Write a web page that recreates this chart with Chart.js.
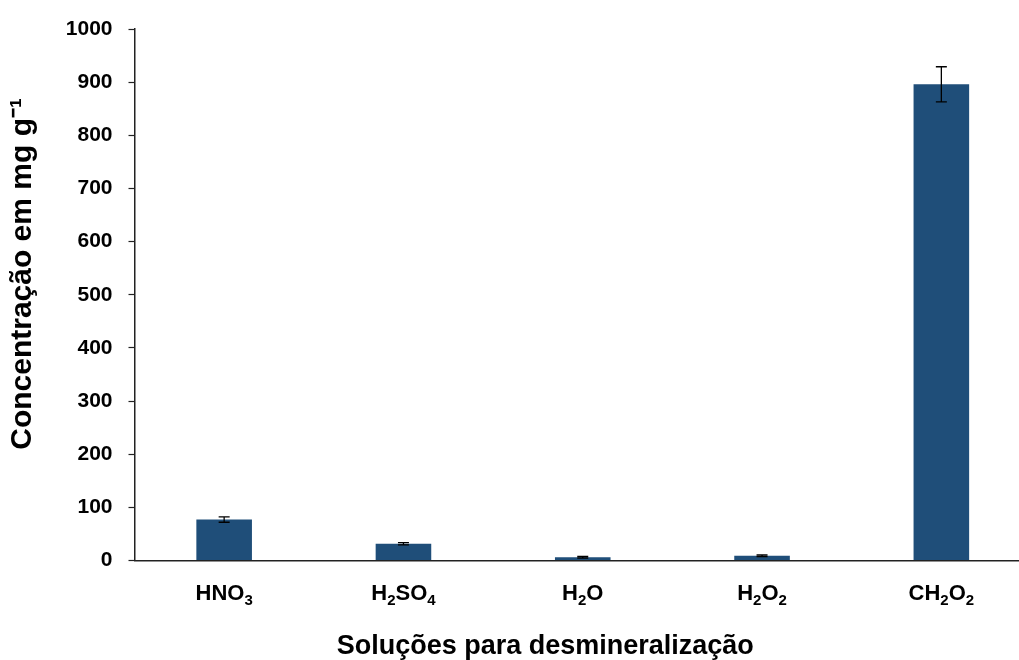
<!DOCTYPE html>
<html>
<head>
<meta charset="utf-8">
<script src="https://cdn.jsdelivr.net/npm/chart.js@4.4.1/dist/chart.umd.min.js"></script>
<style>
  html, body { margin: 0; padding: 0; background: #fff; overflow: hidden; }
  #wrap { width: 1019px; height: 660px; overflow: hidden; }
  #chart { display: block; }
</style>
</head>
<body>
<div id="wrap"><canvas id="chart" width="1040" height="660"></canvas></div>
<script>
// ── Data ───────────────────────────────────────────────────────────────
const categories = ['HNO₃', 'H₂SO₄', 'H₂O', 'H₂O₂', 'CH₂O₂'];
const values     = [77, 31.5, 6, 9, 896];
const errors     = [5, 2, 1.5, 1.5, 33];
const yTicks     = [0, 100, 200, 300, 400, 500, 600, 700, 800, 900, 1000];
const xTitle     = 'Soluções para desmineralização';
const yTitle     = 'Concentração em mg g⁻¹';

// ── Style ──────────────────────────────────────────────────────────────
const BAR_COLOR = '#1F4E79';
const FONT = 'Arial, "Liberation Sans", sans-serif';
const SUBS = '₀₁₂₃₄₅₆₇₈₉';

// ── Error bars ─────────────────────────────────────────────────────────
const errorBars = {
  id: 'errorBars',
  afterDatasetsDraw(chart) {
    const { ctx, scales: { x, y } } = chart;
    ctx.save();
    ctx.strokeStyle = '#000';
    ctx.lineWidth = 1.3;
    values.forEach((v, i) => {
      const cx = x.getPixelForValue(i);
      const top = y.getPixelForValue(v + errors[i]);
      const bot = y.getPixelForValue(v - errors[i]);
      ctx.beginPath();
      ctx.moveTo(cx, top); ctx.lineTo(cx, bot);
      ctx.moveTo(cx - 5.5, top); ctx.lineTo(cx + 5.5, top);
      ctx.moveTo(cx - 5.5, bot); ctx.lineTo(cx + 5.5, bot);
      ctx.stroke();
    });
    ctx.restore();
  }
};

// ── Category labels with lowered subscripts ────────────────────────────
const subLabels = {
  id: 'subLabels',
  afterDraw(chart) {
    const { ctx, scales: { x } } = chart;
    const big = 'bold 22px ' + FONT, small = 'bold 15px ' + FONT;
    const base = x.top + 39;
    ctx.save();
    ctx.fillStyle = '#000';
    ctx.textBaseline = 'alphabetic';
    ctx.textAlign = 'left';
    categories.forEach((lab, i) => {
      const parts = [...lab].map(ch => {
        const k = SUBS.indexOf(ch);
        return k >= 0 ? { t: String(k), sub: true } : { t: ch, sub: false };
      });
      let w = 0;
      parts.forEach(p => { ctx.font = p.sub ? small : big; w += ctx.measureText(p.t).width; });
      let px = x.getPixelForValue(i) - w / 2;
      parts.forEach(p => {
        ctx.font = p.sub ? small : big;
        ctx.fillText(p.t, px, p.sub ? base + 5 : base);
        px += ctx.measureText(p.t).width;
      });
    });
    ctx.restore();
  }
};

// ── Chart ──────────────────────────────────────────────────────────────
new Chart(document.getElementById('chart').getContext('2d'), {
  type: 'bar',
  data: {
    labels: categories,
    datasets: [{
      data: values,
      backgroundColor: BAR_COLOR,
      borderWidth: 0,
      barPercentage: 0.62,
      categoryPercentage: 0.5
    }]
  },
  options: {
    responsive: false,
    animation: false,
    layout: { padding: { top: 29, right: 9, left: 0, bottom: 0 } },
    plugins: { legend: { display: false }, tooltip: { enabled: false } },
    scales: {
      x: {
        grid: { display: false, drawTicks: false },
        border: { color: '#222', width: 1.5 },
        ticks: { display: false },
        title: {
          // trailing spaces pull the title left, as in the original layout
          display: true, text: xTitle + ' '.repeat(10), color: '#000',
          font: { family: FONT, size: 27, weight: 'bold' }, padding: { top: 0, bottom: -3 }
        },
        afterFit(s) { s.height = 99.5; }
      },
      y: {
        min: 0, max: 1000,
        afterBuildTicks(s) { s.ticks = yTicks.map(v => ({ value: v })); },
        grid: { display: true, drawOnChartArea: false, drawTicks: true, tickLength: 6, tickColor: '#222', tickWidth: 1.2 },
        border: { color: '#222', width: 1.5 },
        ticks: {
          color: '#000', padding: 16, font: { family: FONT, size: 21, weight: 'bold' },
          callback: v => String(v)
        },
        title: {
          // leading spaces lift the title slightly, as in the original
          display: true, text: ' '.repeat(5) + yTitle, color: '#000',
          font: { family: FONT, size: 30, weight: 'bold' }, padding: { top: 5, bottom: 0 }
        },
        afterFit(s) { s.width = 134.5; }
      }
    }
  },
  plugins: [errorBars, subLabels]
});
</script>
</body>
</html>
